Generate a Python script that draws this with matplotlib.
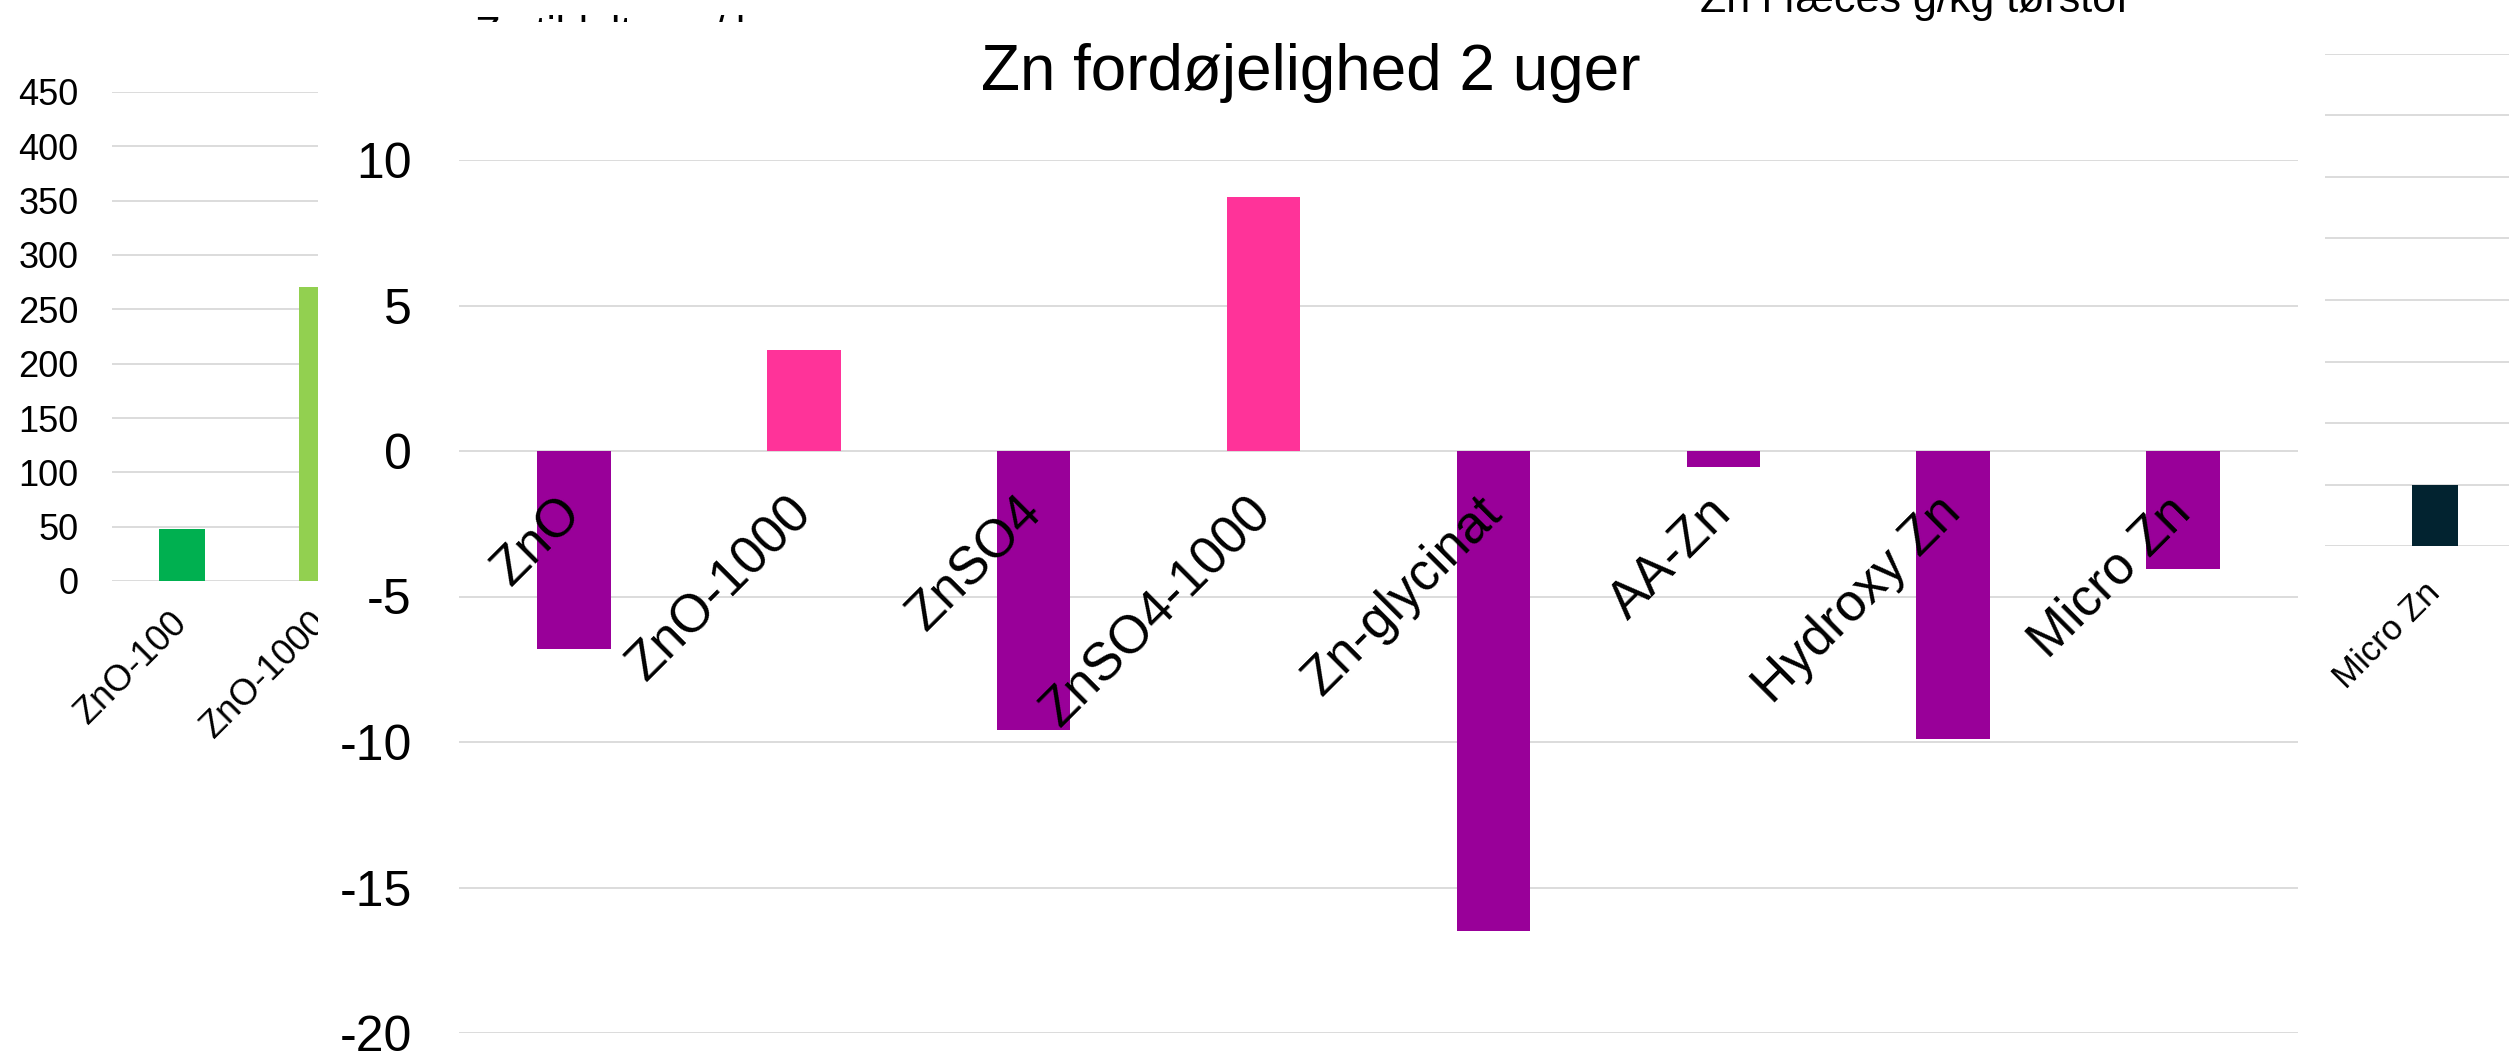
import matplotlib
matplotlib.use("Agg")
import matplotlib.pyplot as plt
from matplotlib.patches import Rectangle

# main chart: Zn digestibility after 2 weeks
categories = ["ZnO", "ZnO-1000", "ZnSO4", "ZnSO4-1000",
              "Zn-glycinat", "AA-Zn", "Hydroxy Zn", "Micro Zn"]
values = [-6.8, 3.47, -9.58, 8.73, -16.5, -0.55, -9.9, -4.06]
y_ticks = [-20, -15, -10, -5, 0, 5, 10]

# chart peeking out on the left (only two bars visible)
left_categories = ["ZnO-100", "ZnO-1000"]
left_values = [48, 271]
left_colors = ["#00B050", "#92D050"]
left_ticks = [0, 50, 100, 150, 200, 250, 300, 350, 400, 450]

# chart peeking out on the right (only the last bar visible)
right_categories = ["Micro Zn"]
right_index = [7]
right_values = [1.0]
right_ticks = [0, 1, 2, 3, 4, 5, 6, 7, 8]

W, H = 2509, 1058
GRID = "#D9D9D9"
POS_COLOR = "#FF3399"
NEG_COLOR = "#990099"

plt.rcParams["font.family"] = ["Liberation Sans", "DejaVu Sans"]
plt.rcParams["axes.unicode_minus"] = False

fig = plt.figure(figsize=(W / 100, H / 100), dpi=100)


def add_px_axes(left, top, right, bottom, zorder=0):
    ax = fig.add_axes([left / W, 1 - bottom / H, (right - left) / W, (bottom - top) / H])
    ax.set_zorder(zorder)
    ax.set_facecolor("none")
    for s in ax.spines.values():
        s.set_visible(False)
    ax.tick_params(length=0)
    return ax


def grid(ax, ticks):
    for t in ticks:
        ax.axhline(t, color=GRID, linewidth=1.3, zorder=0)


# ---- left chart ----
ax_l = add_px_axes(112, 92, 1232, 581)
ax_l.set_xlim(-0.5, 7.5)
ax_l.set_ylim(0, 450)
grid(ax_l, left_ticks)
ax_l.bar(range(len(left_values)), left_values, width=0.33, color=left_colors, zorder=1)
ax_l.set_yticks(left_ticks)
ax_l.tick_params(axis="y", labelsize=26, pad=24)
ax_l.set_xticks(range(len(left_categories)))
ax_l.set_xticklabels(left_categories, rotation=45, rotation_mode="anchor",
                     ha="right", va="center", fontsize=26)
ax_l.tick_params(axis="x", pad=26)
fig.text(627 / W, 1 - 46 / H, "Zn tildelt mg / kg", ha="center", va="baseline",
         fontsize=30, zorder=0.5)

# ---- right chart ----
ax_r = add_px_axes(1320, 54, 2509, 546)
ax_r.set_xlim(-0.5, 7.5)
ax_r.set_ylim(0, 8)
grid(ax_r, right_ticks)
ax_r.bar(right_index, right_values, width=0.31, color="#022330", zorder=1)
ax_r.set_yticks(right_ticks)
ax_r.tick_params(axis="y", labelsize=25)
ax_r.set_xticks(right_index)
ax_r.set_xticklabels(right_categories, rotation=45, rotation_mode="anchor",
                     ha="right", va="center", fontsize=25)
ax_r.tick_params(axis="x", pad=30)
fig.text(1914 / W, 1 - 12 / H, "Zn i fæces g/kg tørstof", ha="center", va="baseline",
         fontsize=31, zorder=0.5)

# ---- white box of the front chart ----
fig.add_artist(Rectangle((318 / W, 0), (2325 - 318) / W, 1 - 22 / H,
                         transform=fig.transFigure, facecolor="white",
                         edgecolor="none", zorder=1))

# ---- main chart ----
ax = add_px_axes(459, 160, 2298, 1033, zorder=2)
ax.set_xlim(-0.5, 7.5)
ax.set_ylim(-20, 10)
grid(ax, y_ticks)
colors = [POS_COLOR if v > 0 else NEG_COLOR for v in values]
ax.bar(range(len(values)), values, width=0.32, color=colors, zorder=1)
ax.set_yticks(y_ticks)
ax.tick_params(axis="y", labelsize=36, pad=34)
ax.spines["bottom"].set_position(("data", 0))
ax.set_xticks(range(len(categories)))
ax.set_xticklabels(categories, rotation=45, rotation_mode="anchor",
                   ha="right", va="center", fontsize=38)
ax.tick_params(axis="x", pad=39)
ax.xaxis.set_zorder(3)

fig.text(1311 / W, 1 - 90 / H, "Zn fordøjelighed 2 uger", ha="center", va="baseline",
         fontsize=46, zorder=3)

fig.savefig("out.png", dpi=100)
